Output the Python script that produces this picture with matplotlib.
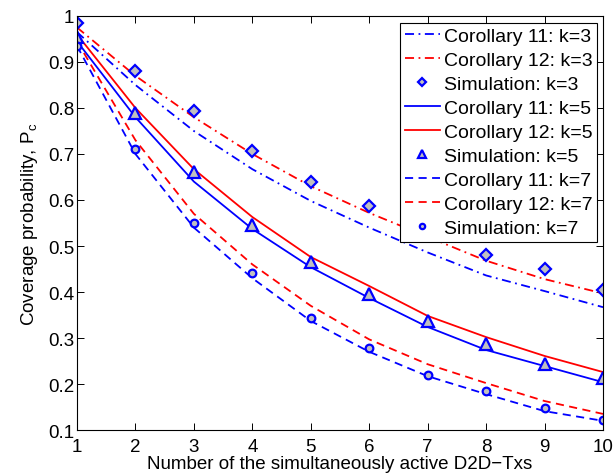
import numpy as np
import matplotlib
matplotlib.use('Agg')
import matplotlib.pyplot as plt

plt.rcParams['font.family'] = ['Liberation Sans', 'DejaVu Sans']
plt.rcParams['mathtext.fontset'] = 'custom'
plt.rcParams['mathtext.rm'] = 'Liberation Sans'

# number of simultaneously active D2D-Txs
n_tx = [1, 2, 3, 4, 5, 6, 7, 8, 9, 10]

# k = 3
cor11_k3 = [0.965, 0.850, 0.750, 0.667, 0.598, 0.540, 0.486, 0.436, 0.402, 0.367]
cor12_k3 = [0.975, 0.870, 0.780, 0.700, 0.630, 0.572, 0.520, 0.468, 0.428, 0.397]
sim_k3 = [0.985, 0.880, 0.793, 0.706, 0.639, 0.587, 0.535, 0.481, 0.449, 0.404]

# k = 5
cor11_k5 = [0.945, 0.780, 0.640, 0.537, 0.454, 0.387, 0.324, 0.274, 0.239, 0.204]
cor12_k5 = [0.960, 0.800, 0.667, 0.563, 0.476, 0.413, 0.348, 0.302, 0.261, 0.226]
sim_k5 = [0.955, 0.790, 0.660, 0.545, 0.465, 0.396, 0.337, 0.287, 0.243, 0.213]

# k = 7
cor11_k7 = [0.935, 0.700, 0.540, 0.430, 0.337, 0.270, 0.217, 0.178, 0.141, 0.120]
cor12_k7 = [0.945, 0.730, 0.570, 0.460, 0.370, 0.297, 0.243, 0.202, 0.163, 0.135]
sim_k7 = [0.935, 0.711, 0.550, 0.441, 0.343, 0.278, 0.220, 0.185, 0.148, 0.122]

blue = '#0000ff'
red = '#ff0000'
fill = '#c0c0c0'
lw = 1.3
dashdot = (0, (5, 2.5, 1, 2.5))
dashed = (0, (4.5, 3))

fig = plt.figure(figsize=(6.13, 4.77), dpi=100)
ax = fig.add_axes([0.1256, 0.0964, 0.8581, 0.868])

ax.plot(n_tx, cor11_k3, color=blue, lw=lw, linestyle=dashdot, label='Corollary 11: k=3')
ax.plot(n_tx, cor12_k3, color=red, lw=lw, linestyle=dashdot, label='Corollary 12: k=3')
ax.plot(n_tx, sim_k3, linestyle='none', marker='D', ms=6, mec=blue, mfc=fill, mew=1.6,
        label='Simulation: k=3')
ax.plot(n_tx, cor11_k5, color=blue, lw=lw, label='Corollary 11: k=5')
ax.plot(n_tx, cor12_k5, color=red, lw=lw, label='Corollary 12: k=5')
ax.plot(n_tx, sim_k5, linestyle='none', marker='^', ms=8, mec=blue, mfc=fill, mew=1.6,
        label='Simulation: k=5')
ax.plot(n_tx, cor11_k7, color=blue, lw=lw, linestyle=dashed, label='Corollary 11: k=7')
ax.plot(n_tx, cor12_k7, color=red, lw=lw, linestyle=dashed, label='Corollary 12: k=7')
ax.plot(n_tx, sim_k7, linestyle='none', marker='o', ms=5.5, mec=blue, mfc=fill, mew=1.6,
        label='Simulation: k=7')

ax.set_xlim(1, 10)
ax.set_ylim(0.1, 1)
ax.set_xticks(n_tx)
ax.set_yticks([0.1, 0.2, 0.3, 0.4, 0.5, 0.6, 0.7, 0.8, 0.9, 1.0])
ax.set_yticklabels(['0.1', '0.2', '0.3', '0.4', '0.5', '0.6', '0.7', '0.8', '0.9', '1'])
ax.tick_params(direction='in', top=True, right=True, labelsize=13.5, length=5, width=0.7)
ax.tick_params(axis='x', pad=6)
ax.tick_params(axis='y', pad=2)
for s in ax.spines.values():
    s.set_linewidth(0.8)

ax.set_xlabel('Number of the simultaneously active D2D\u2212Txs', fontsize=13.5, labelpad=0)
ax.set_ylabel(r'Coverage probability, P$_\mathregular{c}$', fontsize=13.5, labelpad=6)

leg = ax.legend(loc='upper right', bbox_to_anchor=(0.989, 0.984), borderaxespad=0,
                fontsize=14, fancybox=False, framealpha=1, edgecolor='black',
                handlelength=1.8, handletextpad=0.2, labelspacing=0.33,
                borderpad=0.25, markerscale=0.7)
leg.get_frame().set_linewidth(0.8)
leg.set_zorder(10)

fig.savefig('out.png', dpi=100)
